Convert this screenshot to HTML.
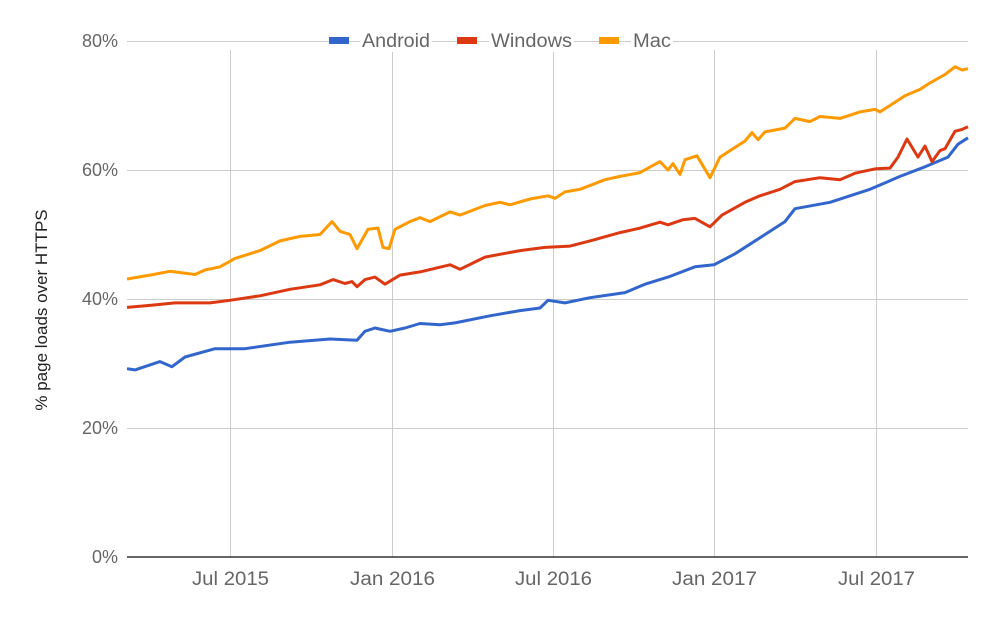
<!DOCTYPE html>
<html><head><meta charset="utf-8"><style>
body{margin:0;background:#fff;}
svg{display:block;font-family:"Liberation Sans",sans-serif;}
</style></head><body>
<svg id="c" width="1000" height="618" viewBox="0 0 1000 618">
<rect width="1000" height="618" fill="#fff"/>
<g stroke="#ccc" stroke-width="1">
<line x1="127" y1="41.5" x2="968" y2="41.5"/>
<line x1="127" y1="170.5" x2="968" y2="170.5"/>
<line x1="127" y1="299.5" x2="968" y2="299.5"/>
<line x1="127" y1="428.5" x2="968" y2="428.5"/>
<line x1="230.5" y1="50" x2="230.5" y2="557"/>
<line x1="392.5" y1="50" x2="392.5" y2="557"/>
<line x1="553.5" y1="50" x2="553.5" y2="557"/>
<line x1="714.5" y1="50" x2="714.5" y2="557"/>
<line x1="876.5" y1="50" x2="876.5" y2="557"/>
</g>
<g fill="#666" font-size="18" text-anchor="end">
<text x="118" y="47">80%</text>
<text x="118" y="176">60%</text>
<text x="118" y="305">40%</text>
<text x="118" y="434">20%</text>
<text x="118" y="563">0%</text>
</g>
<g fill="#666" font-size="19">
<text x="192" y="585" textLength="77" lengthAdjust="spacingAndGlyphs">Jul 2015</text>
<text x="350" y="585" textLength="85" lengthAdjust="spacingAndGlyphs">Jan 2016</text>
<text x="515" y="585" textLength="77" lengthAdjust="spacingAndGlyphs">Jul 2016</text>
<text x="672" y="585" textLength="85" lengthAdjust="spacingAndGlyphs">Jan 2017</text>
<text x="838" y="585" textLength="77" lengthAdjust="spacingAndGlyphs">Jul 2017</text>
</g>
<text transform="translate(47,310) rotate(-90)" fill="#222" font-size="17" text-anchor="middle">% page loads over HTTPS</text>
<g id="series" fill="none" stroke-width="3" stroke-linejoin="round"></g>
<line x1="127" y1="557" x2="968" y2="557" stroke="#333" stroke-width="1.5"/>
<rect x="360" y="28" width="72" height="24" fill="#fff"/>
<rect x="489" y="28" width="85" height="24" fill="#fff"/>
<rect x="631" y="28" width="42" height="24" fill="#fff"/>
<rect x="329" y="37" width="20" height="7" fill="#3366cc"/>
<rect x="457" y="37" width="20" height="7" fill="#dc3912"/>
<rect x="599" y="37" width="20" height="7" fill="#ff9900"/>
<g fill="#666" font-size="19">
<text x="362" y="47" textLength="68" lengthAdjust="spacingAndGlyphs">Android</text>
<text x="491" y="47" textLength="81" lengthAdjust="spacingAndGlyphs">Windows</text>
<text x="633" y="47" textLength="38" lengthAdjust="spacingAndGlyphs">Mac</text>
</g>
</svg>
<script>
var A=[[127,29.2],[135,29],[160,30.3],[172,29.5],[185,31],[215,32.3],[245,32.3],[290,33.3],[330,33.8],[357,33.6],[365,35],[375,35.5],[390,35],[405,35.5],[420,36.2],[440,36],[455,36.3],[490,37.4],[520,38.2],[540,38.6],[548,39.8],[565,39.4],[590,40.2],[625,41],[645,42.3],[670,43.5],[695,45],[714,45.3],[735,47],[765,50],[785,52],[795,54],[830,55],[870,57],[900,59],[925,60.5],[948,62],[958,64],[968,65]];
var W=[[127,38.7],[150,39],[175,39.4],[210,39.4],[230,39.8],[260,40.5],[290,41.5],[320,42.2],[333,43],[345,42.4],[352,42.7],[357,41.9],[365,43],[375,43.4],[385,42.3],[400,43.7],[420,44.2],[450,45.3],[460,44.6],[485,46.5],[520,47.5],[545,48],[570,48.2],[590,49],[620,50.3],[640,51],[660,51.9],[668,51.5],[683,52.3],[695,52.5],[710,51.2],[722,53],[745,55],[760,56],[780,57],[795,58.2],[820,58.8],[840,58.5],[855,59.5],[876,60.2],[890,60.3],[898,62],[907,64.8],[918,62],[925,63.7],[932,61.3],[940,63],[945,63.3],[955,66],[962,66.3],[968,66.7]];
var M=[[127,43.1],[150,43.7],[170,44.3],[195,43.8],[205,44.5],[220,45],[235,46.3],[260,47.5],[280,49],[300,49.7],[320,50],[332,52],[340,50.5],[350,50],[357,47.8],[368,50.8],[378,51],[383,48],[389,47.8],[395,50.8],[410,52],[420,52.6],[430,52],[450,53.5],[460,53],[485,54.5],[500,55],[510,54.6],[530,55.5],[548,56],[555,55.6],[565,56.6],[580,57],[605,58.5],[620,59],[640,59.6],[660,61.3],[668,60],[673,61],[680,59.3],[685,61.6],[697,62.2],[710,58.8],[720,62],[730,63],[745,64.5],[752,65.8],[758,64.7],[765,65.9],[785,66.5],[795,68],[810,67.5],[820,68.3],[840,68],[860,69],[875,69.4],[880,69],[890,70],[905,71.5],[920,72.5],[930,73.5],[945,74.8],[955,76],[962,75.5],[968,75.7]];
var g=document.getElementById('series');
function add(d,c){var p=document.createElementNS('http://www.w3.org/2000/svg','polyline');
p.setAttribute('points',d.map(function(q){return q[0]+','+(557-q[1]*6.45).toFixed(1)}).join(' '));
p.setAttribute('stroke',c);g.appendChild(p);}
add(A,'#3366cc');add(W,'#dc3912');add(M,'#ff9900');
</script>
</body></html>
